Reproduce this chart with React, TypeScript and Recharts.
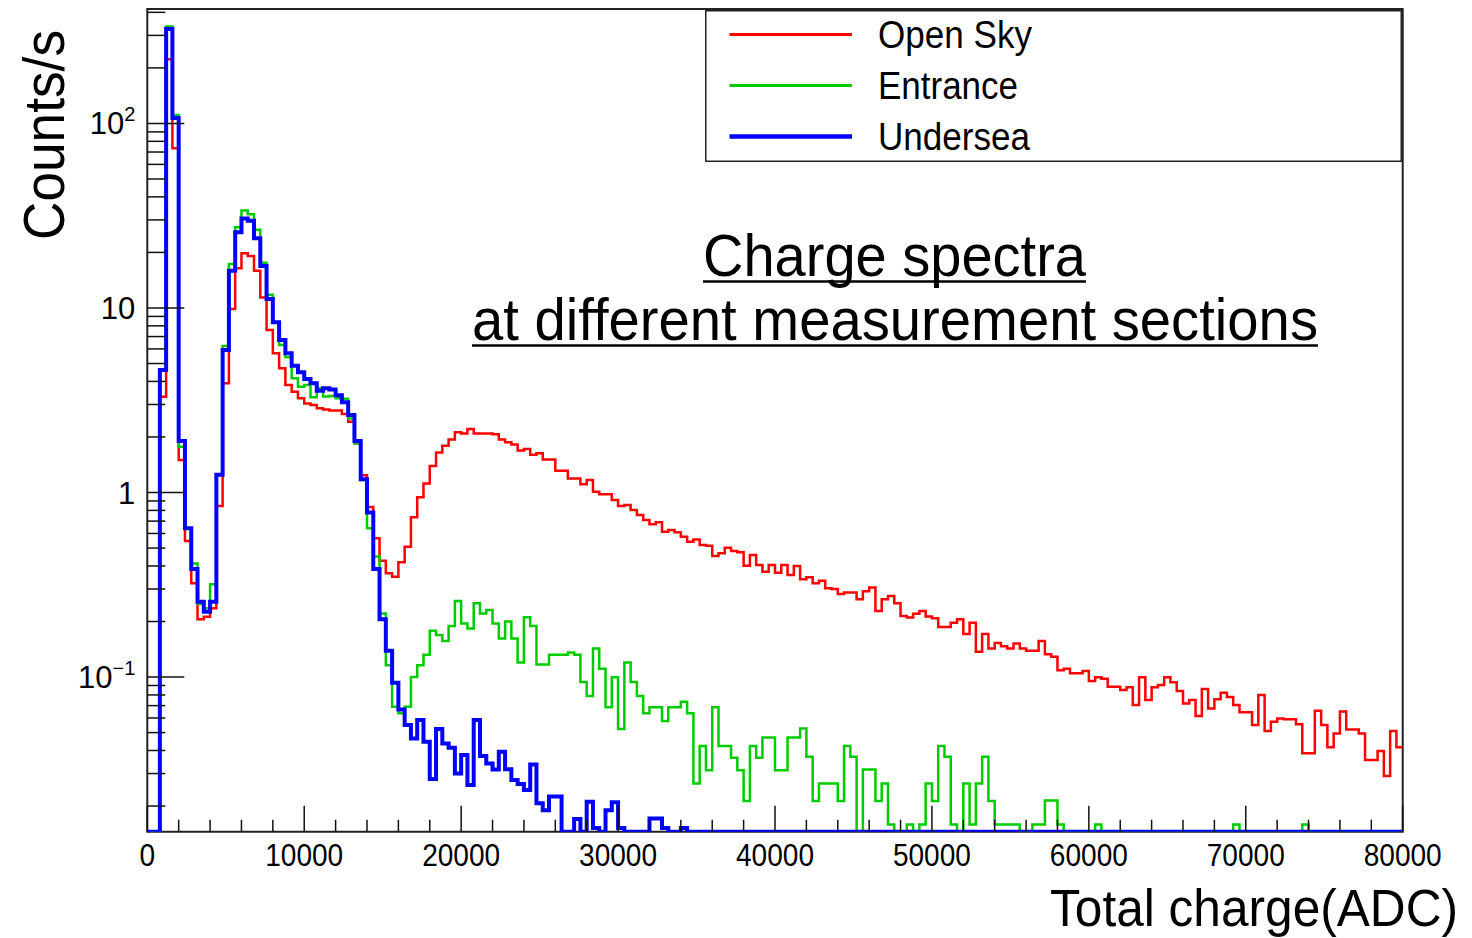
import { LineChart, Line, XAxis, YAxis, ReferenceArea, Legend } from 'recharts';

// page starts at 0,0 like the reference picture
document.body.style.margin = '0';

// 200 bins of 400 ADC from 0 to 80000
const BIN_WIDTH = 400;
const N_BINS = 200;
const BIN_EDGES = Array.from({ length: N_BINS + 1 }, (_, i) => i * BIN_WIDTH);

// Counts/s per bin (0 = empty bin)
const OPEN_SKY = [
  0, 0, 3.3, 223, 73.4, 1.5, 0.546, 0.322, 0.206, 0.212,
  0.236, 0.845, 3.91, 9.88, 16.4, 19.8, 19.1, 15.9, 11.4, 7.6,
  5.68, 4.71, 3.83, 3.52, 3.24, 3.04, 2.98, 2.86, 2.82, 2.78,
  2.78, 2.66, 2.42, 1.85, 1.24, 0.835, 0.565, 0.427, 0.365, 0.35,
  0.419, 0.508, 0.734, 0.942, 1.12, 1.39, 1.65, 1.79, 1.94, 2.12,
  2.09, 2.21, 2.09, 2.09, 2.09, 2.07, 1.94, 1.87, 1.82, 1.69,
  1.72, 1.6, 1.63, 1.51, 1.51, 1.31, 1.31, 1.19, 1.19, 1.11,
  1.17, 1.01, 0.98, 0.98, 0.91, 0.845, 0.855, 0.804, 0.755, 0.71,
  0.672, 0.69, 0.613, 0.626, 0.61, 0.576, 0.541, 0.557, 0.519, 0.514,
  0.453, 0.468, 0.502, 0.482, 0.475, 0.401, 0.458, 0.405, 0.372, 0.405,
  0.368, 0.405, 0.357, 0.4, 0.339, 0.347, 0.322, 0.333, 0.303, 0.3,
  0.282, 0.287, 0.287, 0.264, 0.292, 0.306, 0.228, 0.264, 0.275, 0.251,
  0.214, 0.21, 0.22, 0.228, 0.213, 0.208, 0.187, 0.187, 0.197, 0.206,
  0.171, 0.197, 0.137, 0.171, 0.143, 0.153, 0.147, 0.143, 0.152, 0.143,
  0.139, 0.139, 0.157, 0.133, 0.129, 0.109, 0.111, 0.105, 0.105, 0.108,
  0.0951, 0.0996, 0.098, 0.0886, 0.0886, 0.0851, 0.088, 0.0705, 0.0996, 0.075,
  0.088, 0.0905, 0.0996, 0.0936, 0.084, 0.072, 0.075, 0.0615, 0.0861, 0.0676,
  0.0757, 0.0822, 0.078, 0.0705, 0.0644, 0.0644, 0.055, 0.0799, 0.051, 0.0573,
  0.0597, 0.059, 0.059, 0.0555, 0.0386, 0.0386, 0.0656, 0.055, 0.0416, 0.0495,
  0.065, 0.052, 0.052, 0.0495, 0.0355, 0.0355, 0.0397, 0.0291, 0.051, 0.0416,
];

const ENTRANCE = [
  0, 0, 4.6, 335, 111, 1.77, 0.64, 0.413, 0.249, 0.236,
  0.318, 1.25, 6.22, 17.3, 27.4, 33.7, 32.2, 26.5, 17.6, 11.8,
  8.4, 6.3, 5.4, 4.16, 3.74, 3.83, 3.28, 3.67, 3.31, 3.33,
  3.24, 3.22, 2.52, 1.85, 1.17, 0.64, 0.45, 0.221, 0.116, 0.069,
  0.0636, 0.069, 0.1, 0.116, 0.132, 0.178, 0.169, 0.157, 0.189, 0.258,
  0.195, 0.183, 0.251, 0.221, 0.231, 0.195, 0.162, 0.2, 0.162, 0.12,
  0.211, 0.189, 0.117, 0.117, 0.132, 0.132, 0.132, 0.136, 0.132, 0.094,
  0.0789, 0.143, 0.111, 0.0685, 0.0996, 0.0523, 0.12, 0.094, 0.0789, 0.0636,
  0.0685, 0.0685, 0.0578, 0.0685, 0.0685, 0.0735, 0.0636, 0.0265, 0.0423, 0.0313,
  0.0685, 0.0423, 0.0423, 0.0365, 0.0313, 0.0213, 0.0423, 0.0365, 0.0471, 0.0471,
  0.0313, 0.0313, 0.0471, 0.0471, 0.0527, 0.037, 0.0213, 0.0265, 0.0265, 0.0265,
  0.0213, 0.0423, 0.037, 0, 0.0316, 0.0316, 0.0213, 0.0265, 0.0159, 0,
  0, 0.0159, 0, 0.0159, 0.0265, 0.0213, 0.0423, 0.037, 0.0159, 0,
  0.0265, 0.0159, 0.0265, 0.037, 0.0213, 0.0159, 0.0159, 0.0159, 0.0159, 0,
  0, 0.0159, 0.0159, 0.0214, 0.0214, 0.0159, 0, 0, 0, 0,
  0, 0.0159, 0, 0, 0, 0, 0, 0, 0, 0,
  0, 0, 0, 0, 0, 0, 0, 0, 0, 0,
  0, 0, 0, 0.0159, 0, 0, 0, 0, 0, 0,
  0, 0, 0, 0, 0.0159, 0, 0, 0, 0, 0,
  0, 0, 0, 0, 0, 0, 0, 0, 0, 0,
];

const UNDERSEA = [
  0, 0, 4.61, 325, 107, 1.9, 0.64, 0.385, 0.256, 0.226,
  0.256, 1.25, 5.92, 15.9, 25.7, 30.5, 29.7, 23.9, 16.9, 11.2,
  8.36, 6.71, 5.68, 4.86, 4.48, 4.12, 3.91, 3.56, 3.67, 3.62,
  3.37, 3.08, 2.63, 1.9, 1.18, 0.78, 0.385, 0.206, 0.139, 0.093,
  0.0668, 0.055, 0.0465, 0.0585, 0.0446, 0.028, 0.0523, 0.0437, 0.0414, 0.03,
  0.0378, 0.026, 0.0585, 0.0373, 0.034, 0.0316, 0.0394, 0.0317, 0.0277, 0.0263,
  0.0244, 0.0336, 0.0207, 0.019, 0.0225, 0.0225, 0, 0, 0.017, 0,
  0.0211, 0.0152, 0, 0.019, 0.021, 0.0152, 0, 0, 0, 0,
  0.0171, 0.0171, 0.0152, 0, 0, 0.0152, 0, 0, 0, 0,
  0, 0, 0, 0, 0, 0, 0, 0, 0, 0,
  0, 0, 0, 0, 0, 0, 0, 0, 0, 0,
  0, 0, 0, 0, 0, 0, 0, 0, 0, 0,
  0, 0, 0, 0, 0, 0, 0, 0, 0, 0,
  0, 0, 0, 0, 0, 0, 0, 0, 0, 0,
  0, 0, 0, 0, 0, 0, 0, 0, 0, 0,
  0, 0, 0, 0, 0, 0, 0, 0, 0, 0,
  0, 0, 0, 0, 0, 0, 0, 0, 0, 0,
  0, 0, 0, 0, 0, 0, 0, 0, 0, 0,
  0, 0, 0, 0, 0, 0, 0, 0, 0, 0,
  0, 0, 0, 0, 0, 0, 0, 0, 0, 0,
];

const SERIES = [
  { key: 'openSky', name: 'Open Sky', color: '#ff0000', width: 2.5, legendWidth: 3, textLen: 154 },
  { key: 'entrance', name: 'Entrance', color: '#00cc00', width: 2.5, legendWidth: 3, textLen: 140 },
  { key: 'undersea', name: 'Undersea', color: '#0000ff', width: 4, legendWidth: 4.5, textLen: 152 },
];

// log axis range of the frame
const Y_MIN = 0.01452;
const Y_MAX = 417;

const X_MAJOR_TICKS = [0, 10000, 20000, 30000, 40000, 50000, 60000, 70000, 80000];
const X_TICKS = Array.from({ length: 41 }, (_, i) => i * 2000);

const Y_MAJOR_TICKS = [0.1, 1, 10, 100];
const Y_MAJOR_LABELS = [['10', '\u22121'], ['1', ''], ['10', ''], ['10', '2']];
const Y_TICKS = [
  0.02, 0.03, 0.04, 0.05, 0.06, 0.07, 0.08, 0.09,
  0.1, 0.2, 0.3, 0.4, 0.5, 0.6, 0.7, 0.8, 0.9,
  1, 2, 3, 4, 5, 6, 7, 8, 9,
  10, 20, 30, 40, 50, 60, 70, 80, 90,
  100, 200, 300, 400,
];

const FONT = '"Liberation Sans", Arial, Helvetica, sans-serif';

// empty bins sit on the bottom of the frame, as in ROOT
const onFrame = (v: number) => (v > 0 ? v : Y_MIN);

const chartData = BIN_EDGES.map((edge, i) => {
  const b = Math.min(i, N_BINS - 1);
  return {
    adc: edge,
    openSky: onFrame(OPEN_SKY[b]),
    entrance: onFrame(ENTRANCE[b]),
    undersea: onFrame(UNDERSEA[b]),
  };
});

// ticks are drawn inward from the frame, ROOT style
function renderXTick(props: any) {
  const { x, y, payload } = props;
  const v = payload.value as number;
  const major = X_MAJOR_TICKS.includes(v);
  const label = String(v);
  return (
    <g key={`xt-${v}`}>
      <line x1={x} x2={x} y1={y} y2={y - (major ? 26 : 12)} stroke="#111" strokeWidth={1.5} />
      {major && (
        <text
          x={x}
          y={y + 34}
          textAnchor="middle"
          fontSize={31}
          fontFamily={FONT}
          fill="#000"
          textLength={label.length * 15.6}
          lengthAdjust="spacingAndGlyphs"
        >
          {label}
        </text>
      )}
    </g>
  );
}

function renderYTick(props: any) {
  const { x, y, payload } = props;
  const v = payload.value as number;
  const idx = Y_MAJOR_TICKS.indexOf(v);
  const major = idx >= 0;
  return (
    <g key={`yt-${v}`}>
      <line x1={x} x2={x + (major ? 37 : 18)} y1={y} y2={y} stroke="#111" strokeWidth={1.5} />
      {major && (
        <text x={x - 12} y={y + 11} textAnchor="end" fontSize={31} fontFamily={FONT} fill="#000">
          <tspan>{Y_MAJOR_LABELS[idx][0]}</tspan>
          {Y_MAJOR_LABELS[idx][1] && (
            <tspan dy={-13} fontSize={20}>{Y_MAJOR_LABELS[idx][1]}</tspan>
          )}
        </text>
      )}
    </g>
  );
}

function HistLegend(props: any) {
  const payload = (props.payload || []) as Array<{ value: string; color: string }>;
  return (
    <svg width={697} height={152} style={{ display: 'block' }}>
      <rect x={0.75} y={0.75} width={695.5} height={150.5} fill="#fff" stroke="#222" strokeWidth={1.5} />
      {SERIES.map((s, i) => {
        const entry = payload.find((p) => p.value === s.name);
        const cy = 24.5 + i * 51;
        return (
          <g key={s.key}>
            <line x1={24.5} x2={147} y1={cy} y2={cy} stroke={entry ? entry.color : s.color} strokeWidth={s.legendWidth} />
            <text
              x={173}
              y={cy + 13}
              fontSize={38}
              fontFamily={FONT}
              fill="#000"
              textLength={s.textLen}
              lengthAdjust="spacingAndGlyphs"
            >
              {s.name}
            </text>
          </g>
        );
      })}
    </svg>
  );
}

export default function App() {
  return (
    <div style={{ position: 'relative', width: 1472, height: 938, background: '#fff' }}>
      <LineChart
        width={1472}
        height={938}
        data={chartData}
        margin={{ top: 9, right: 69.3, bottom: 0, left: 0 }}
      >
        <XAxis
          type="number"
          dataKey="adc"
          domain={[0, 80000]}
          ticks={X_TICKS}
          interval={0}
          tick={renderXTick}
          tickSize={0}
          tickMargin={0}
          tickLine={false}
          axisLine={false}
          height={106.3}
          allowDataOverflow
        />
        <YAxis
          type="number"
          scale="log"
          domain={[Y_MIN, Y_MAX]}
          ticks={Y_TICKS}
          interval={0}
          tick={renderYTick}
          tickSize={0}
          tickMargin={0}
          tickLine={false}
          axisLine={false}
          width={147.3}
          allowDataOverflow
        />
        <ReferenceArea
          x1={0}
          x2={80000}
          y1={Y_MIN}
          y2={Y_MAX}
          fill="none"
          stroke="#222"
          strokeWidth={2}
          ifOverflow="visible"
        />
        {SERIES.map((s) => (
          <Line
            key={s.key}
            type="stepAfter"
            dataKey={s.key}
            name={s.name}
            stroke={s.color}
            strokeWidth={s.width}
            dot={false}
            activeDot={false}
            isAnimationActive={false}
          />
        ))}
        <Legend
          layout="horizontal"
          verticalAlign="middle"
          align="center"
          wrapperStyle={{ top: 9.5, left: 705, width: 697, height: 152 }}
          content={<HistLegend />}
        />
      </LineChart>

      {/* overlay annotations */}
      <svg
        width={1472}
        height={938}
        style={{ position: 'absolute', left: 0, top: 0, pointerEvents: 'none' }}
      >
        <text x={894.5} y={276} textAnchor="middle" fontSize={59} fontFamily={FONT} textLength={383} lengthAdjust="spacingAndGlyphs">
          Charge spectra
        </text>
        <line x1={703} x2={1086} y1={281.5} y2={281.5} stroke="#000" strokeWidth={2.5} />
        <text x={895} y={340} textAnchor="middle" fontSize={59} fontFamily={FONT} textLength={846} lengthAdjust="spacingAndGlyphs">
          at different measurement sections
        </text>
        <line x1={472} x2={1318} y1={345.5} y2={345.5} stroke="#000" strokeWidth={2.5} />
        <text
          transform="translate(64,135) rotate(-90)"
          textAnchor="middle"
          fontSize={58}
          fontFamily={FONT}
          textLength={210}
          lengthAdjust="spacingAndGlyphs"
        >
          Counts/s
        </text>
        <text x={1050} y={926} fontSize={51} fontFamily={FONT} textLength={408} lengthAdjust="spacingAndGlyphs">
          Total charge(ADC)
        </text>
      </svg>
    </div>
  );
}
